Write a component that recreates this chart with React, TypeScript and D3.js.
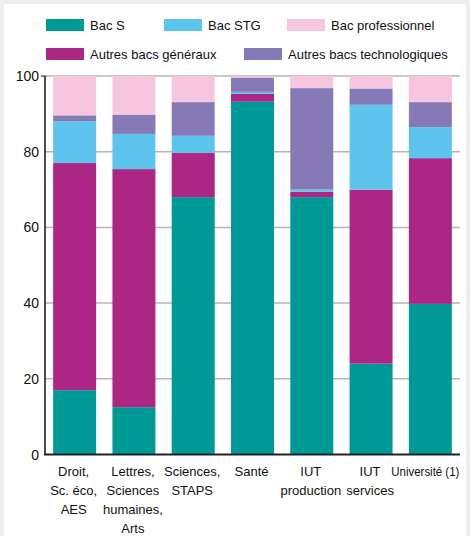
import React, { useEffect, useRef } from "react";
import * as d3 from "d3";

// filières (x categories), label lines
const categories = ["Droit", "Lettres", "Sciences", "Santé", "IUTprod", "IUTserv", "Univ"];
const categoryLabels = [
  ["Droit,", "Sc. éco,", "AES"],
  ["Lettres,", "Sciences", "humaines,", "Arts"],
  ["Sciences,", "STAPS"],
  ["Santé"],
  ["IUT", "production"],
  ["IUT", "services"],
  ["Université (1)"],
];

// series, bottom to top
const bacS = [17, 12.5, 68, 93.2, 68, 24, 39.8];
const autresGeneraux = [60, 62.9, 11.7, 2.1, 1.4, 46, 38.5];
const bacSTG = [11, 9.3, 4.5, 0.5, 0.6, 22.4, 8.2];
const autresTechno = [1.6, 5, 8.9, 3.8, 26.8, 4.3, 6.6];
const bacPro = [10.4, 10.3, 6.9, 0.4, 3.2, 3.3, 6.9];

const yTicks = [0, 20, 40, 60, 80, 100];

const seriesKeys = ["bacS", "autresGeneraux", "bacSTG", "autresTechno", "bacPro"];
const colors: Record<string, string> = {
  bacS: "#009a96",
  autresGeneraux: "#ab2783",
  bacSTG: "#5dc4ed",
  autresTechno: "#857ab5",
  bacPro: "#f6c5de",
};

export default function App() {
  const ref = useRef<SVGSVGElement>(null);

  useEffect(() => {
    const svg = d3.select(ref.current);
    svg.selectAll("*").remove();

    const W = 470;
    const H = 536;
    const font = "'Liberation Sans', Arial, sans-serif";

    svg.append("rect").attr("width", W).attr("height", H).attr("fill", "#eeeeee");
    svg.append("rect").attr("x", 4).attr("y", 4).attr("width", 462).attr("height", H - 4).attr("fill", "#fff");

    const rows = categories.map((c, i) => ({
      cat: c,
      bacS: bacS[i],
      autresGeneraux: autresGeneraux[i],
      bacSTG: bacSTG[i],
      autresTechno: autresTechno[i],
      bacPro: bacPro[i],
    }));

    const x = d3
      .scaleBand()
      .domain(categories)
      .range([45, 460])
      .paddingInner(0.275)
      .paddingOuter(0.1375);

    const y = d3.scaleLinear().domain([0, 100]).range([454.5, 76]);

    // gridlines
    svg
      .append("g")
      .selectAll("line")
      .data(yTicks.filter((t) => t > 0))
      .enter()
      .append("line")
      .attr("x1", 45)
      .attr("x2", 460)
      .attr("y1", (d) => y(d))
      .attr("y2", (d) => y(d))
      .attr("stroke", "#b5b5b5")
      .attr("stroke-width", 1.5);

    const stacked = d3.stack<any>().keys(seriesKeys)(rows);

    svg
      .append("g")
      .selectAll("g")
      .data(stacked)
      .enter()
      .append("g")
      .attr("fill", (d) => colors[d.key])
      .selectAll("rect")
      .data((d) => d)
      .enter()
      .append("rect")
      .attr("x", (d: any) => x(d.data.cat)!)
      .attr("width", x.bandwidth())
      .attr("y", (d) => y(d[1]))
      .attr("height", (d) => y(d[0]) - y(d[1]));

    // axes lines
    svg
      .append("line")
      .attr("x1", 45)
      .attr("x2", 45)
      .attr("y1", y(100))
      .attr("y2", y(0))
      .attr("stroke", "#111")
      .attr("stroke-width", 1.5);
    svg
      .append("line")
      .attr("x1", 41)
      .attr("x2", 45)
      .attr("y1", y(100))
      .attr("y2", y(100))
      .attr("stroke", "#111")
      .attr("stroke-width", 1);
    svg
      .append("line")
      .attr("x1", 44)
      .attr("x2", 460)
      .attr("y1", y(0))
      .attr("y2", y(0))
      .attr("stroke", "#222")
      .attr("stroke-width", 2);

    // y tick labels
    svg
      .append("g")
      .selectAll("text")
      .data(yTicks)
      .enter()
      .append("text")
      .attr("x", 39)
      .attr("y", (d) => y(d) + 5)
      .attr("text-anchor", "end")
      .attr("font-family", font)
      .attr("font-size", 14)
      .attr("fill", "#111")
      .text((d) => d);

    // x labels
    const xl = svg
      .append("g")
      .selectAll("text")
      .data(categories)
      .enter()
      .append("text")
      .attr("text-anchor", "middle")
      .attr("font-family", font)
      .attr("font-size", 13)
      .attr("fill", "#111");
    xl.each(function (c, i) {
      const t = d3.select(this);
      categoryLabels[i].forEach((line, j) => {
        const ts = t
          .append("tspan")
          .attr("x", x(c)! + x.bandwidth() / 2 - (i === 6 ? 5 : 1))
          .attr("y", 476 + j * 19)
          .text(line);
        if (i === 6) ts.attr("textLength", 68).attr("lengthAdjust", "spacingAndGlyphs");
      });
    });

    // legend
    const legend = [
      { key: "bacS", label: "Bac S", x: 46, y: 19 },
      { key: "bacSTG", label: "Bac STG", x: 164, y: 19 },
      { key: "bacPro", label: "Bac professionnel", x: 287, y: 19 },
      { key: "autresGeneraux", label: "Autres bacs généraux", x: 46, y: 48 },
      { key: "autresTechno", label: "Autres bacs technologiques", x: 244, y: 48 },
    ];
    const lg = svg
      .append("g")
      .selectAll("g")
      .data(legend)
      .enter()
      .append("g")
      .attr("transform", (d) => `translate(${d.x},${d.y})`);
    lg.append("rect").attr("width", 38).attr("height", 12).attr("fill", (d) => colors[d.key]);
    lg.append("text")
      .attr("x", 44)
      .attr("y", 11)
      .attr("font-family", font)
      .attr("font-size", 13)
      .attr("fill", "#111")
      .text((d) => d.label);
  }, []);

  return (
    <svg
      ref={ref}
      width={470}
      height={536}
      style={{ position: "absolute", left: 0, top: 0, display: "block" }}
    />
  );
}
